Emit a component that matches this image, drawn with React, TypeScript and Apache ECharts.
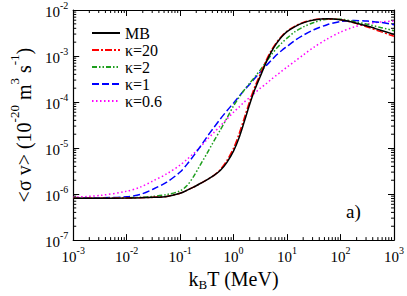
import React, { useEffect, useRef } from "react";
import * as echarts from "echarts";

const kT = [0.001, 0.00316, 0.01, 0.0178, 0.0316, 0.0562, 0.1, 0.133, 0.178, 0.237, 0.316, 0.422, 0.562, 0.75, 1.0, 1.26, 1.58, 2.0, 2.51, 3.16, 3.98, 5.01, 6.31, 7.94, 10.0, 14.1, 20.0, 31.6, 56.2, 100, 178, 316, 562, 1000];

const mb = [8.13e-7, 8.13e-7, 8.22e-7, 8.32e-7, 8.51e-7, 8.91e-7, 1.047e-6, 1.202e-6, 1.413e-6, 1.698e-6, 2.04e-6, 2.51e-6, 3.24e-6, 4.9e-6, 8.71e-6, 1.66e-5, 3.72e-5, 8.91e-5, 1.91e-4, 3.63e-4, 6.92e-4, 1.2e-3, 1.86e-3, 2.63e-3, 3.39e-3, 4.37e-3, 5.25e-3, 6.03e-3, 6.46e-3, 6.17e-3, 5.37e-3, 4.47e-3, 3.63e-3, 2.95e-3];

const k20 = [8.13e-7, 8.13e-7, 8.22e-7, 8.32e-7, 8.51e-7, 8.91e-7, 1.047e-6, 1.202e-6, 1.413e-6, 1.698e-6, 2.04e-6, 2.51e-6, 3.39e-6, 5.37e-6, 1.0e-5, 2.0e-5, 4.47e-5, 1.05e-4, 2.19e-4, 4.07e-4, 7.59e-4, 1.29e-3, 1.95e-3, 2.69e-3, 3.47e-3, 4.47e-3, 5.37e-3, 6.17e-3, 6.46e-3, 6.17e-3, 5.25e-3, 4.27e-3, 3.39e-3, 2.69e-3];

const k2 = [8.13e-7, 8.13e-7, 8.32e-7, 8.51e-7, 8.91e-7, 9.77e-7, 1.175e-6, 1.51e-6, 2.4e-6, 4.27e-6, 7.59e-6, 1.38e-5, 2.45e-5, 4.47e-5, 8.32e-5, 1.26e-4, 1.82e-4, 2.57e-4, 3.55e-4, 5.01e-4, 7.24e-4, 1.05e-3, 1.45e-3, 1.91e-3, 2.45e-3, 3.39e-3, 4.27e-3, 5.37e-3, 6.31e-3, 6.31e-3, 5.62e-3, 4.9e-3, 4.17e-3, 3.55e-3];

const k1 = [8.13e-7, 8.32e-7, 8.71e-7, 9.77e-7, 1.29e-6, 1.82e-6, 3.02e-6, 4.37e-6, 6.76e-6, 1.07e-5, 1.74e-5, 2.75e-5, 4.27e-5, 6.46e-5, 9.55e-5, 1.32e-4, 1.82e-4, 2.45e-4, 3.31e-4, 4.47e-4, 6.03e-4, 7.94e-4, 1.05e-3, 1.32e-3, 1.62e-3, 2.19e-3, 2.82e-3, 3.72e-3, 4.79e-3, 5.62e-3, 5.89e-3, 5.75e-3, 5.37e-3, 4.79e-3];

const k06 = [8.51e-7, 9.33e-7, 1.15e-6, 1.41e-6, 1.95e-6, 2.75e-6, 4.27e-6, 5.62e-6, 7.59e-6, 1.05e-5, 1.51e-5, 2.14e-5, 3.02e-5, 4.27e-5, 6.03e-5, 7.76e-5, 1.0e-4, 1.26e-4, 1.58e-4, 2.0e-4, 2.45e-4, 3.09e-4, 3.8e-4, 4.68e-4, 5.75e-4, 7.76e-4, 1.05e-3, 1.55e-3, 2.34e-3, 3.31e-3, 4.27e-3, 5.01e-3, 5.5e-3, 5.75e-3];

const seriesNames = ["MB", "κ=20", "κ=2", "κ=1", "κ=0.6"];
const seriesColors = ["#000000", "#ff0000", "#1e9e1e", "#0000ff", "#ff00ff"];
const seriesDash: any[] = ["solid", [7, 2, 2, 2], [5, 2, 1.5, 2, 1.5, 2], [7, 3], [1.5, 2.5]];
const seriesData = [mb, k20, k2, k1, k06];

// minor tick values (2..9 x 10^n) for both log axes
const xDecades = [0.001, 0.01, 0.1, 1, 10, 100];
const yDecades = [1e-7, 1e-6, 1e-5, 1e-4, 1e-3];
const minorMultipliers = [2, 3, 4, 5, 6, 7, 8, 9];

const X_MIN = 0.001, X_MAX = 1000, Y_MIN = 1e-7, Y_MAX = 1e-2;

const FONT = "Liberation Serif";

const powLabel = (v: number) => {
  const e = Math.round(Math.log10(v));
  return `{b|10}{s|${e}}`;
};

const richPow = {
  b: { fontSize: 15, fontFamily: FONT, color: "#000", padding: [4, 0, 0, 0], verticalAlign: "bottom" },
  s: { fontSize: 10, fontFamily: FONT, color: "#000", verticalAlign: "top" },
};

export default function App() {
  const ref = useRef<HTMLDivElement>(null);
  useEffect(() => {
    if (!ref.current) return;
    const chart = echarts.init(ref.current, null, { renderer: "svg" });
    const axisCommon = {
      type: "log" as const,
      logBase: 10,
      axisLine: { show: true, lineStyle: { color: "#000", width: 1.2 } },
      axisTick: { show: true, inside: true, length: 6, lineStyle: { color: "#000" } },
      minorTick: { show: false },
      splitLine: { show: false },
      minorSplitLine: { show: false },
    };
    const tickData: any[] = [];
    xDecades.forEach((d) => minorMultipliers.forEach((m) => tickData.push([d * m, Y_MIN, 0])));
    yDecades.forEach((d) => minorMultipliers.forEach((m) => tickData.push([X_MIN, d * m, 1])));

    chart.setOption({
      animation: false,
      backgroundColor: "#fff",
      grid: { left: 51, right: 11, top: 10, bottom: 46 },
      legend: {
        orient: "vertical",
        left: 86,
        top: 20,
        itemWidth: 28,
        itemHeight: 14,
        itemGap: 1,
        data: seriesNames,
        itemStyle: { opacity: 0 },
        textStyle: { fontSize: 16, lineHeight: 16, fontFamily: FONT, color: "#000" },
      },
      xAxis: [
        {
          ...axisCommon,
          min: X_MIN,
          max: X_MAX,
          position: "bottom",
          axisLabel: { formatter: powLabel, rich: richPow, margin: 5 },
          name: "{n|k}{sub|B}{n|T (MeV)}",
          nameLocation: "middle",
          nameGap: 26,
          nameTextStyle: {
            rich: {
              n: { fontSize: 20, fontFamily: FONT, color: "#000", verticalAlign: "top" },
              sub: { fontSize: 13, fontFamily: FONT, color: "#000", padding: [9, 0, 0, 0], verticalAlign: "top" },
            },
          },
        },
        {
          ...axisCommon,
          min: X_MIN,
          max: X_MAX,
          position: "top",
          axisLabel: { show: false },
        },
      ],
      yAxis: [
        {
          ...axisCommon,
          min: Y_MIN,
          max: Y_MAX,
          position: "left",
          axisLabel: { formatter: powLabel, rich: richPow, margin: 5 },
          name: "{n|<σ v> (10}{s|-20}{n| m}{s|3}{n| s}{s|-1}{n|)}",
          nameLocation: "middle",
          nameGap: 31,
          nameRotate: 90,
          nameTextStyle: {
            rich: {
              n: { fontSize: 20, fontFamily: FONT, color: "#000", padding: [6, 0, 0, 0], verticalAlign: "bottom" },
              s: { fontSize: 13, fontFamily: FONT, color: "#000", verticalAlign: "top" },
            },
          },
        },
        {
          ...axisCommon,
          min: Y_MIN,
          max: Y_MAX,
          position: "right",
          axisLabel: { show: false },
        },
      ],
      series: [
        ...seriesNames.map((name, i) => ({
          name,
          type: "line",
          xAxisIndex: 0,
          yAxisIndex: 0,
          showSymbol: false,
          symbol: "none",
          smooth: 0.3,
          data: kT.map((x, j) => [x, seriesData[i][j]]),
          lineStyle: { color: seriesColors[i], width: 1.5, type: seriesDash[i] },
          itemStyle: { color: seriesColors[i] },
          z: 10 - i,
        })),
        {
          name: "minorTicks",
          type: "custom",
          xAxisIndex: 0,
          yAxisIndex: 0,
          silent: true,
          clip: false,
          data: tickData,
          renderItem: (params: any, api: any) => {
            const v0 = api.value(0);
            const v1 = api.value(1);
            const kind = api.value(2);
            const len = 3;
            const st = { stroke: "#000", lineWidth: 1 };
            if (kind === 0) {
              const a = api.coord([v0, Y_MIN]);
              const b = api.coord([v0, Y_MAX]);
              return {
                type: "group",
                children: [
                  { type: "line", shape: { x1: a[0], y1: a[1], x2: a[0], y2: a[1] - len }, style: st },
                  { type: "line", shape: { x1: b[0], y1: b[1], x2: b[0], y2: b[1] + len }, style: st },
                ],
              };
            }
            const a = api.coord([X_MIN, v1]);
            const b = api.coord([X_MAX, v1]);
            return {
              type: "group",
              children: [
                { type: "line", shape: { x1: a[0], y1: a[1], x2: a[0] + len, y2: a[1] }, style: st },
                { type: "line", shape: { x1: b[0], y1: b[1], x2: b[0] - len, y2: b[1] }, style: st },
              ],
            };
          },
        },
      ],
      graphic: [
        {
          type: "text",
          left: 346,
          top: 202,
          style: { text: "a)", fontSize: 19, fontFamily: FONT, fill: "#000" },
        },
      ],
    });
    return () => chart.dispose();
  }, []);
  return <div ref={ref} style={{ width: 407, height: 296, position: "absolute", left: 0, top: 0 }} />;
}
